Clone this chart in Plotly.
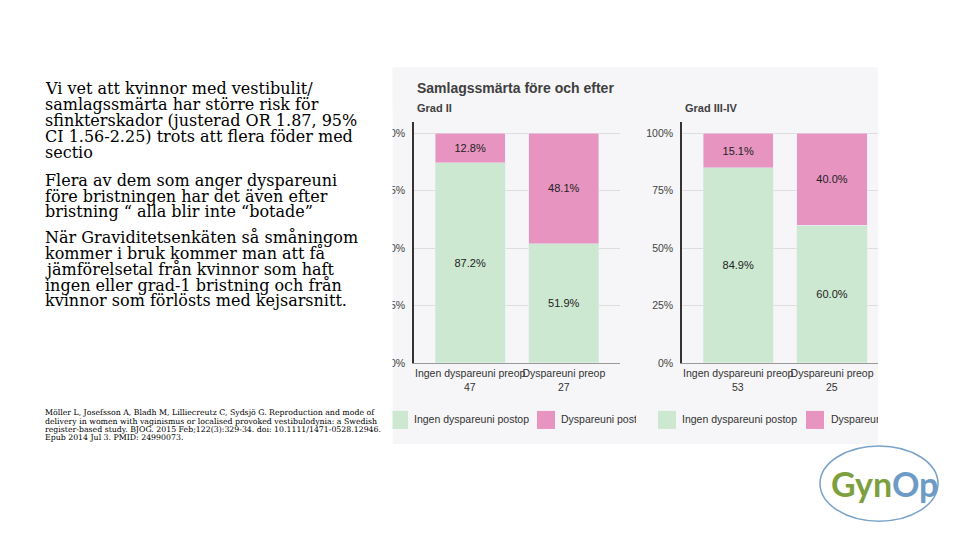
import plotly.graph_objects as go

# ---------------- data ----------------
categories = ["Ingen dyspareuni preop", "Dyspareuni preop"]
grad2_n = [47, 27]
grad2_ingen_postop = [87.2, 51.9]
grad2_dysp_postop = [12.8, 48.1]
grad34_n = [53, 25]
grad34_ingen_postop = [84.9, 60.0]
grad34_dysp_postop = [15.1, 40.0]
y_ticks = [0, 0.25, 0.5, 0.75, 1.0]
series_names = ["Ingen dyspareuni postop", "Dyspareuni postop"]

text_lines_p1 = ["Vi vet att kvinnor med vestibulit/",
                 "samlagssmärta har större risk för",
                 "sfinkterskador (justerad OR 1.87, 95%",
                 "CI 1.56-2.25) trots att flera föder med",
                 "sectio"]
text_lines_p2 = ["Flera av dem som anger dyspareuni",
                 "före bristningen har det även efter",
                 "bristning “ alla blir inte “botade”"]
text_lines_p3 = ["När Graviditetsenkäten så småningom",
                 "kommer i bruk kommer man att få",
                 "jämförelsetal från kvinnor som haft",
                 "ingen eller grad-1 bristning och från",
                 "kvinnor som förlösts med kejsarsnitt."]
citation_lines = ["Möller L, Josefsson A, Bladh M, Lilliecreutz C, Sydsjö G. Reproduction and mode of",
                  "delivery in women with vaginismus or localised provoked vestibulodynia: a Swedish",
                  "register-based study. BJOG. 2015 Feb;122(3):329-34. doi: 10.1111/1471-0528.12946.",
                  "Epub 2014 Jul 3. PMID: 24990073."]

GREEN = "#cde8d0"
PINK = "#e794c0"
BG = "#f6f5f7"
W, H = 960, 540
K = 1.0135  # vertical correction for the rendered page


def fx(x):
    return x / W


def fy(y):
    return 1 - y * K / H


fig = go.Figure()


def add_panel(ingen, dysp, xa, ya):
    fig.add_trace(go.Bar(x=categories, y=[v / 100 for v in ingen], marker_color=GREEN,
                         texttemplate="%{y:.1%}", textposition="inside", insidetextanchor="middle",
                         textfont=dict(size=11, color="#222", family="Arial"),
                         xaxis=xa, yaxis=ya, showlegend=False, name=series_names[0]))
    fig.add_trace(go.Bar(x=categories, y=[v / 100 for v in dysp], marker_color=PINK,
                         texttemplate="%{y:.1%}", textposition="inside", insidetextanchor="middle",
                         textfont=dict(size=11, color="#222", family="Arial"),
                         xaxis=xa, yaxis=ya, showlegend=False, name=series_names[1]))


add_panel(grad2_ingen_postop, grad2_dysp_postop, "x", "y")
add_panel(grad34_ingen_postop, grad34_dysp_postop, "x2", "y2")

# overlay (pixel) axis for legend labels that get clipped by the picture frame
legend_labels = [(414, 419, series_names[0]), (561, 419, series_names[1]),
                 (682, 419, series_names[0]), (831, 419, series_names[1])]
fig.add_trace(go.Scatter(x=[p[0] for p in legend_labels], y=[p[1] for p in legend_labels],
                         text=[p[2] for p in legend_labels], mode="text", textposition="middle right",
                         textfont=dict(size=10.5, color="#333", family="Arial"),
                         cliponaxis=False, xaxis="x3", yaxis="y3", showlegend=False, hoverinfo="skip"))

ydom = [fy(362), fy(122)]
axis_common = dict(tickfont=dict(size=10.5, color="#333", family="Arial"))
yfont = dict(tickfont=dict(size=10.5, color="#444", family="Arial"))
fig.update_layout(
    width=W, height=H, margin=dict(l=0, r=0, t=0, b=0), autosize=False,
    paper_bgcolor="white", plot_bgcolor="rgba(0,0,0,0)",
    barmode="stack", bargap=0.25, showlegend=False,
    xaxis=dict(domain=[fx(414), fx(620)], range=[-0.6, 1.6], showline=True, linecolor="#999",
               linewidth=1, ticks="", showgrid=False, tickangle=0, ticklabelstandoff=1, **axis_common),
    yaxis=dict(domain=ydom, range=[0, 1.048], tickvals=y_ticks, tickformat=".0%",
               showline=True, linecolor="#333", linewidth=1.5, gridcolor="#dedede",
               ticks="", ticklabelstandoff=5, zeroline=False, **yfont),
    xaxis2=dict(domain=[fx(682), fx(878)], range=[-0.6, 1.49], showline=True, linecolor="#999",
                linewidth=1, ticks="", showgrid=False, tickangle=0, ticklabelstandoff=1, **axis_common),
    yaxis2=dict(domain=ydom, range=[0, 1.048], tickvals=y_ticks, tickformat=".0%",
                showline=True, linecolor="#333", linewidth=1.5, gridcolor="#dedede",
                ticks="", ticklabelstandoff=5, zeroline=False, anchor="x2", **yfont),
    xaxis3=dict(domain=[0, 1], range=[0, W], visible=False, fixedrange=True),
    yaxis3=dict(domain=[0, 1], range=[H / K, 0], visible=False, fixedrange=True, anchor="x3"),
)

shapes = []
# picture background
shapes.append(dict(type="rect", xref="paper", yref="paper", x0=fx(392.5), x1=fx(878), y0=fy(443), y1=fy(67),
                   fillcolor=BG, line_width=0, layer="below"))
# legend swatches
for x0 in (390, 537, 658, 806):
    col = GREEN if x0 in (390, 658) else PINK
    shapes.append(dict(type="rect", xref="paper", yref="paper", x0=fx(x0), x1=fx(x0 + 18),
                       y0=fy(428), y1=fy(410), fillcolor=col, line_width=0, layer="below"))
# frame clipping
shapes.append(dict(type="rect", xref="paper", yref="paper", x0=fx(636), x1=fx(657), y0=fy(432), y1=fy(405),
                   fillcolor=BG, line_width=0, layer="above"))
shapes.append(dict(type="rect", xref="paper", yref="paper", x0=fx(360), x1=fx(392.5), y0=fy(445), y1=fy(110),
                   fillcolor="white", line_width=0, layer="above"))
shapes.append(dict(type="rect", xref="paper", yref="paper", x0=fx(878), x1=fx(960), y0=fy(443), y1=fy(60),
                   fillcolor="white", line_width=0, layer="above"))
# logo ellipse
shapes.append(dict(type="circle", xref="paper", yref="paper", x0=fx(820), x1=fx(938), y0=fy(520), y1=fy(445),
                   line=dict(color="#7aa3c8", width=1.5), fillcolor="rgba(0,0,0,0)", layer="above"))
fig.update_layout(shapes=shapes)

ann = []
# chart titles
ann.append(dict(x=fx(415), y=fy(88), text="<b>Samlagssmärta före och efter</b>", showarrow=False,
                xanchor="left", yanchor="middle", xref="paper", yref="paper",
                font=dict(size=14, color="#404040", family="Arial")))
ann.append(dict(x=fx(415), y=fy(108), text="<b>Grad II</b>", showarrow=False,
                xanchor="left", yanchor="middle", xref="paper", yref="paper",
                font=dict(size=11, color="#404040", family="Arial")))
ann.append(dict(x=fx(683), y=fy(108), text="<b>Grad III-IV</b>", showarrow=False,
                xanchor="left", yanchor="middle", xref="paper", yref="paper",
                font=dict(size=11, color="#404040", family="Arial")))

# group sizes under the category labels
for xr, ns in (("x", grad2_n), ("x2", grad34_n)):
    for c, k in zip(categories, ns):
        ann.append(dict(x=c, xref=xr, y=fy(386), yref="paper", text=str(k), showarrow=False,
                        xanchor="center", yanchor="middle",
                        font=dict(size=10.5, color="#333", family="Arial")))

# left text block
line_y = [88, 104, 120, 136, 152, 180, 196, 211, 237, 253, 269, 285, 300]
all_lines = text_lines_p1 + text_lines_p2 + text_lines_p3
for txt, yy in zip(all_lines, line_y):
    ann.append(dict(x=fx(43), y=fy(yy), text=txt, showarrow=False, xanchor="left", yanchor="middle",
                    xref="paper", yref="paper", font=dict(size=16, color="#000", family="DejaVu Serif")))

for i, txt in enumerate(citation_lines):
    ann.append(dict(x=fx(43), y=fy(412 + i * 8.3), text=txt, showarrow=False, xanchor="left",
                    yanchor="middle", xref="paper", yref="paper",
                    font=dict(size=7.8, color="#000", family="DejaVu Serif")))

# logo text
ann.append(dict(x=fx(884), y=fy(482), showarrow=False, xanchor="center", yanchor="middle",
                xref="paper", yref="paper",
                text="<span style='color:#7d9f3f'>Gyn</span><span style='color:#6c9cc6'>Op</span>",
                font=dict(size=34, family="Lato", weight="bold")))
fig.update_layout(annotations=ann)

post_js = ("document.documentElement.style.margin='0';document.documentElement.style.overflow='hidden';"
           "document.body.style.margin='0';document.body.style.overflow='hidden';"
           "document.body.style.height='540px';"
           "var d=document.getElementById('{plot_id}');d.style.position='fixed';"
           "d.style.left='0px';d.style.top='0px';")
fig.write_html("out.html", config={"displayModeBar": False, "responsive": False}, post_script=post_js)
